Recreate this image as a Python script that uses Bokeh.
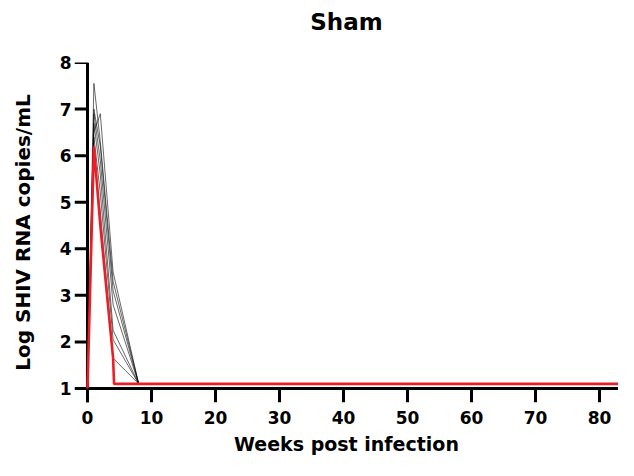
from bokeh.plotting import figure
from bokeh.models import FixedTicker, Range1d, Title
from bokeh.embed import file_html
from bokeh.resources import INLINE

# Weeks post infection sampled
weeks = [0, 1, 2, 4, 8, 85]

# Individual animals (log SHIV RNA copies/mL), black lines
animal_1 = [1.0, 7.55, 6.3, 3.3, 1.1, 1.1]
animal_2 = [1.0, 6.5, 6.9, 3.5, 1.1, 1.1]
animal_3 = [1.0, 7.0, 6.2, 3.1, 1.1, 1.1]
animal_4 = [1.0, 6.7, 5.6, 2.25, 1.1, 1.1]
animal_5 = [1.0, 6.4, 5.2, 2.05, 1.1, 1.1]
animal_6 = [1.0, 6.0, 4.8, 1.65, 1.1, 1.1]
animal_7 = [1.0, 6.9, 5.9, 2.8, 1.1, 1.1]
black_series = [animal_1, animal_2, animal_3, animal_4, animal_5, animal_6, animal_7]

# Highlighted animal (red)
red_weeks = [0, 1, 2, 4, 4.15, 85]
red_values = [1.0, 6.2, 4.5, 1.65, 1.1, 1.1]

x_ticks = [0, 10, 20, 30, 40, 50, 60, 70, 80]
y_ticks = [1, 2, 3, 4, 5, 6, 7, 8]

FONT = "DejaVu Sans"

# layout (pixels)
W, H = 618, 460
AXIS_X0_PX = 87          # screen x of week 0
AXIS_Y1_PX = 388         # screen y of value 1
TOP_PX = 62              # screen y of value 8
PX_PER_WEEK = 6.4
TICK_OUT_Y = 13          # length of y-axis ticks
TICK_OUT_X = 14          # length of x-axis ticks

y_lo, y_hi = y_ticks[0], y_ticks[-1]
px_per_unit = (AXIS_Y1_PX - TOP_PX) / (y_hi - y_lo)
x_start = -TICK_OUT_Y / PX_PER_WEEK
x_end = (W - AXIS_X0_PX) / PX_PER_WEEK
y_start = y_lo - TICK_OUT_X / px_per_unit

p = figure(width=W, height=H, output_backend="svg", toolbar_location=None,
           x_range=Range1d(x_start, x_end), y_range=Range1d(y_start, y_hi),
           min_border_left=AXIS_X0_PX - TICK_OUT_Y, min_border_right=0,
           min_border_top=TOP_PX,
           min_border_bottom=H - AXIS_Y1_PX - TICK_OUT_X)
p.background_fill_color = "white"
p.border_fill_color = "white"

p.title.text = "Sham"
p.title.align = "center"
p.title.offset = 10
p.title.text_font = FONT
p.title.text_font_size = "23px"
p.title.text_font_style = "bold"
p.title.text_color = "black"
p.add_layout(Title(text=" ", text_font_size="10px"), "above")

# axis lines and ticks
p.segment(x0=[0], y0=[y_start], x1=[0], y1=[y_hi], line_color="black", line_width=3)
p.segment(x0=[0], y0=[y_lo], x1=[x_end], y1=[y_lo], line_color="black", line_width=3)
p.segment(x0=[x_start] * len(y_ticks), y0=y_ticks, x1=[0] * len(y_ticks), y1=y_ticks,
          line_color="black", line_width=3)
p.segment(x0=x_ticks, y0=[y_start] * len(x_ticks), x1=x_ticks, y1=[y_lo] * len(x_ticks),
          line_color="black", line_width=3)

for s in black_series:
    p.line(weeks, s, line_color="black", line_width=0.7, line_alpha=0.85)

p.line(red_weeks, red_values, line_color="#ee1c24", line_width=2.6)

p.xgrid.visible = False
p.ygrid.visible = False
p.outline_line_color = None

p.xaxis.ticker = FixedTicker(ticks=x_ticks)
p.yaxis.ticker = FixedTicker(ticks=y_ticks)

p.axis.axis_line_color = None
p.axis.major_tick_line_color = None
p.axis.major_tick_in = 0
p.axis.major_tick_out = 0
p.axis.minor_tick_line_color = None
p.axis.major_label_text_font = FONT
p.axis.major_label_text_font_style = "bold"
p.axis.major_label_text_font_size = "17px"
p.axis.major_label_text_color = "black"
p.axis.axis_label_text_font = FONT
p.axis.axis_label_text_font_style = "bold"
p.axis.axis_label_text_color = "black"

p.xaxis.major_label_standoff = 8
p.yaxis.major_label_standoff = 3
p.xaxis.axis_label = "Weeks post infection"
p.yaxis.axis_label = "Log SHIV RNA copies/mL"
p.xaxis.axis_label_text_font_size = "19px"
p.yaxis.axis_label_text_font_size = "20px"
p.xaxis.axis_label_standoff = 6
p.yaxis.axis_label_standoff = 22

open("out.html", "w").write(file_html(p, INLINE))
